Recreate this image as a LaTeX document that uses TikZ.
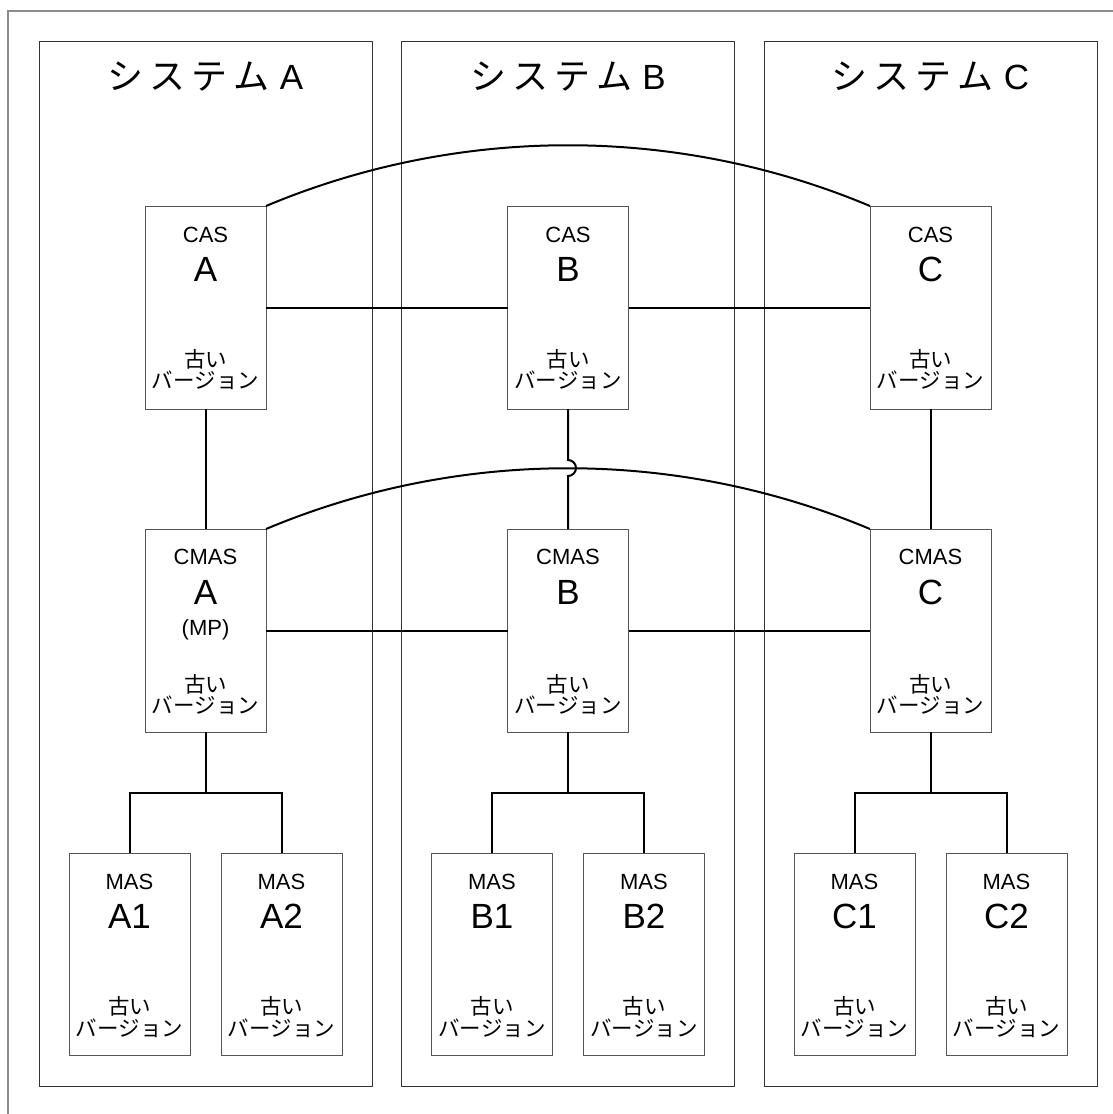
\documentclass[tikz,border=0pt]{standalone}
\usepackage{fontspec}
\setmainfont{Liberation Sans}
\newfontfamily\jpfont{Noto Sans CJK JP}
\definecolor{framegray}{HTML}{8C8C8C}
\definecolor{colgray}{HTML}{333333}
\definecolor{boxgray}{HTML}{555555}
\newcommand\systitle[1]{{\jpfont\fontsize{36}{36}\selectfont シ\hspace{6pt}ス\hspace{6pt}テ\hspace{6pt}ム}\hspace{10pt}#1}
\begin{document}
\begin{tikzpicture}[x=1pt,y=-1pt,
  col/.style={draw=colgray, line width=1pt, minimum width=333pt, minimum height=1045pt, inner sep=0pt, outer sep=0pt},
  box/.style={draw=boxgray, line width=1pt, minimum width=121pt, minimum height=203pt, inner sep=0pt, outer sep=0pt},
  conn/.style={line width=2pt, black},
  ttl/.style={font=\fontsize{35}{35}\selectfont, anchor=base, inner sep=0pt},
  small/.style={font=\fontsize{22}{22}\selectfont, anchor=base, inner sep=0pt},
  big/.style={font=\fontsize{35}{35}\selectfont, anchor=base, inner sep=0pt},
  jp/.style={font=\jpfont\fontsize{21.5}{21.5}\selectfont, anchor=base, inner sep=0pt}]
\useasboundingbox (0,0) rectangle (1113,1114);
\draw[framegray, line width=2pt] (1113,11) -- (8,11) -- (8,1114);

% columns
\node[col] (colA) at (205.5,563.5) {};
\node[col] (colB) at (568,563.5) {};
\node[col] (colC) at (930.5,563.5) {};
\node[ttl] (tA) at (205.5,89) {\systitle{A}};
\node[ttl] (tB) at (568,89) {\systitle{B}};
\node[ttl] (tC) at (930.5,89) {\systitle{C}};

% boxes
\foreach \n/\x/\top/\L in {A/205.5/CAS/A, B/568/CAS/B, C/930.5/CAS/C}{
  \node[box] (cas\n) at (\x,307.5) {};
  \node[small] (cas\n t) at ([yshift=-36pt]cas\n.north) {\top};
  \node[big] (cas\n l) at ([yshift=-75pt]cas\n.north) {\L};
  \node[jp] (cas\n j1) at ([yshift=42pt]cas\n.south) {古い};
  \node[jp] (cas\n j2) at ([yshift=21pt]cas\n.south) {バージョン};
}
\foreach \n/\x in {A/205.5, B/568, C/930.5}{
  \node[box] (cmas\n) at (\x,630.5) {};
  \node[small] (cmas\n t) at ([yshift=-35pt]cmas\n.north) {CMAS};
  \node[big] (cmas\n l) at ([yshift=-75pt]cmas\n.north) {\n};
  \node[jp] (cmas\n j1) at ([yshift=40pt]cmas\n.south) {古い};
  \node[jp] (cmas\n j2) at ([yshift=19pt]cmas\n.south) {バージョン};
}
\node[small] (mp) at ([yshift=-106pt]cmasA.north) {(MP)};

\foreach \n/\x in {A/205.5, B/568, C/930.5}{
  \foreach \k/\d in {1/-76, 2/76}{
    \node[box, minimum height=202pt] (mas\n\k) at (\x+\d,954) {};
    \node[small] (mas\n\k t) at ([yshift=-36pt]mas\n\k.north) {MAS};
    \node[big] (mas\n\k l) at ([yshift=-75pt]mas\n\k.north) {\n\k};
    \node[jp] (mas\n\k j1) at ([yshift=41pt]mas\n\k.south) {古い};
    \node[jp] (mas\n\k j2) at ([yshift=19pt]mas\n\k.south) {バージョン};
  }
  \coordinate (junc\n) at (\x,793);
  \draw[conn] (cmas\n.south) -- (junc\n);
  \draw[conn] (mas\n1.north) |- (junc\n) -| (mas\n2.north);
}

% horizontal links
\draw[conn] (casA.east) -- (casB.west);
\draw[conn] (casB.east) -- (casC.west);
\draw[conn] (cmasA.east) -- (cmasB.west);
\draw[conn] (cmasB.east) -- (cmasC.west);
% vertical links
\draw[conn] (casA.south) -- (cmasA.north);
\draw[conn] (casC.south) -- (cmasC.north);
\coordinate (jumpT) at (568,460);
\draw[conn] (casB.south) -- (jumpT) arc[start angle=-90, end angle=90, radius=8] -- (cmasB.north);
% arcs
\draw[conn] (casA.north east) .. controls +(193,-81) and +(-193,-81) .. (casC.north west);
\draw[conn] (cmasA.north east) .. controls +(193,-81) and +(-193,-81) .. (cmasC.north west);
\end{tikzpicture}
\end{document}
